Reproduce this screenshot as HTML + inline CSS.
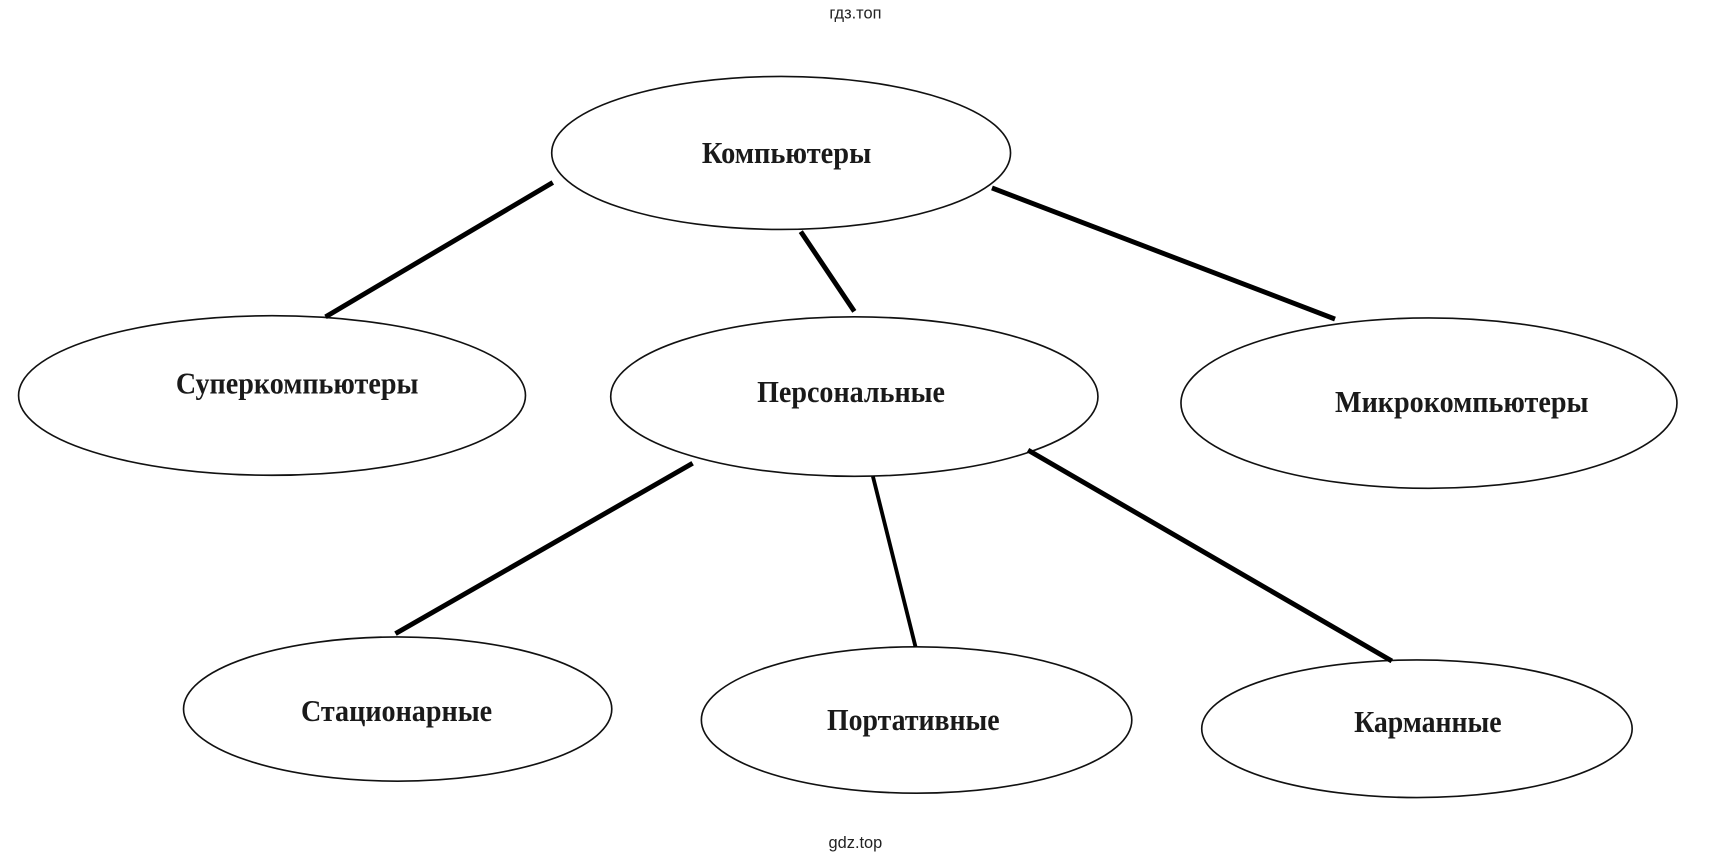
<!DOCTYPE html>
<html><head><meta charset="utf-8"><style>
html,body{margin:0;padding:0;background:#fff;}
svg{display:block;}
.t{font-family:"Liberation Serif","DejaVu Serif",serif;font-weight:bold;font-size:28px;fill:#1a1a1a;}
.w{font-family:"Liberation Sans","DejaVu Sans",sans-serif;font-size:15px;fill:#222;}
</style></head><body>
<svg width="1713" height="862" viewBox="0 0 1568 789" preserveAspectRatio="none" xmlns="http://www.w3.org/2000/svg">
<g fill="none" stroke="#111" stroke-width="1.5">
<ellipse cx="715" cy="140" rx="210" ry="70"/>
<ellipse cx="249" cy="362" rx="232" ry="73"/>
<ellipse cx="782" cy="363" rx="223" ry="73"/>
<ellipse cx="1308" cy="369" rx="227" ry="78"/>
<ellipse cx="364" cy="649" rx="196" ry="66"/>
<ellipse cx="839" cy="659" rx="197" ry="67"/>
<ellipse cx="1297" cy="667" rx="197" ry="63"/>
</g>
<g stroke="#000" stroke-width="4.5">
<line x1="506" y1="167" x2="298" y2="290"/>
<line x1="733" y1="212" x2="782" y2="285"/>
<line x1="908" y1="172" x2="1222" y2="292"/>
<line x1="634" y1="424" x2="362" y2="580"/>
<line x1="799" y1="436" x2="838" y2="592" stroke-width="3.5"/>
<line x1="941" y1="412" x2="1274" y2="605"/>
</g>
<text class="w" x="783" y="17" text-anchor="middle">гдз.топ</text>
<text class="w" x="783" y="776" text-anchor="middle">gdz.top</text>
<g class="t" text-anchor="middle">
<text x="720" y="149" textLength="155" lengthAdjust="spacingAndGlyphs">Компьютеры</text>
<text x="272" y="360" textLength="222" lengthAdjust="spacingAndGlyphs">Суперкомпьютеры</text>
<text x="779" y="368" textLength="172" lengthAdjust="spacingAndGlyphs">Персональные</text>
<text x="1338" y="377" textLength="232" lengthAdjust="spacingAndGlyphs">Микрокомпьютеры</text>
<text x="363" y="660" textLength="175" lengthAdjust="spacingAndGlyphs">Стационарные</text>
<text x="836" y="668" textLength="158" lengthAdjust="spacingAndGlyphs">Портативные</text>
<text x="1307" y="670" textLength="135" lengthAdjust="spacingAndGlyphs">Карманные</text>
</g>
</svg>
</body></html>
